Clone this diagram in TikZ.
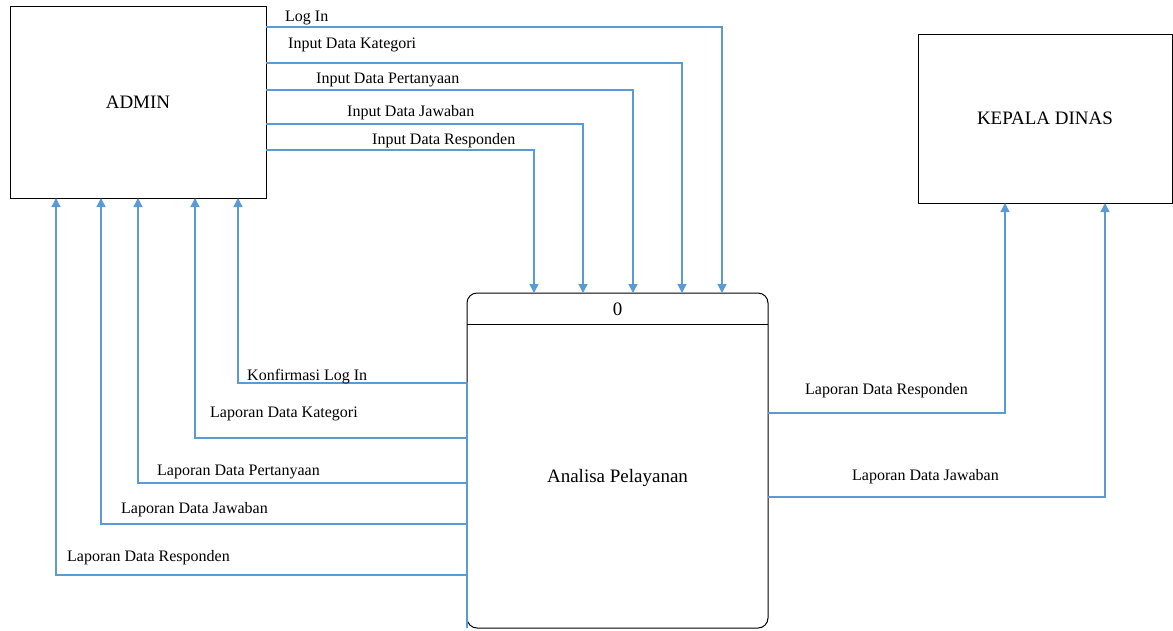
\documentclass[tikz,border=0pt]{standalone}
\usepackage{fontspec}
\setmainfont{Liberation Serif}
\definecolor{flowblue}{HTML}{5B9BD5}
\usetikzlibrary{arrows.meta,positioning}

\begin{document}
\begin{tikzpicture}[x=1pt,y=-1pt,>={Triangle[length=9pt,width=9pt]}]
  \tikzset{
    entity/.style={draw,line width=1pt,inner sep=0pt,outer sep=0pt,font=\rmfamily\fontsize{19}{22}\selectfont},
    flow/.style={->,flowblue,line width=1.3pt},
    flowlabel/.style={anchor=base west,inner sep=0pt,font=\rmfamily\fontsize{16}{19}\selectfont}
  }
  \useasboundingbox (0,0) rectangle (1173,630);

  % external entities
  \node[entity,minimum width=256pt,minimum height=192pt] (admin) at (138,102) {ADMIN};
  \node[entity,minimum width=254pt,minimum height=169pt] (kepala) at (1045,118.5) {KEPALA DINAS};

  % process 0
  \node[draw,line width=1pt,rounded corners=10pt,minimum width=301pt,minimum height=335pt,outer sep=0pt] (proc) at (617.5,460.5) {};
  \draw[line width=1pt] (proc.west |- 0,324) -- (proc.east |- 0,324);
  \node[font=\rmfamily\fontsize{19}{22}\selectfont] (procid) at (617.5,309) {0};
  \node[font=\rmfamily\fontsize{19}{22}\selectfont] (procname) at (617.5,478) {Analisa Pelayanan};

  % admin -> process
  \draw[flow] (admin.east |- 0,27) -| (proc.north -| 722,0);
  \draw[flow] (admin.east |- 0,63) -| (proc.north -| 682,0);
  \draw[flow] (admin.east |- 0,90) -| (proc.north -| 633,0);
  \draw[flow] (admin.east |- 0,124) -| (proc.north -| 583,0);
  \draw[flow] (admin.east |- 0,150) -| (proc.north -| 534,0);
  \node[flowlabel] (login) at (285,21) {Log In};
  \node[flowlabel] (inkat) at (288,48) {Input Data Kategori};
  \node[flowlabel] (inper) at (316,83) {Input Data Pertanyaan};
  \node[flowlabel] (injaw) at (347,116) {Input Data Jawaban};
  \node[flowlabel] (inres) at (372,144) {Input Data Responden};

  % process -> admin
  \draw[flow] (proc.south west) |- (238,383) -- (admin.south -| 238,0);
  \draw[flow] (proc.south west) |- (195,438) -- (admin.south -| 195,0);
  \draw[flow] (proc.south west) |- (138,483) -- (admin.south -| 138,0);
  \draw[flow] (proc.south west) |- (101,524) -- (admin.south -| 101,0);
  \draw[flow] (proc.south west) |- (56,575) -- (admin.south -| 56,0);
  \node[flowlabel] (konf) at (247,380) {Konfirmasi Log In};
  \node[flowlabel] (lapkat) at (210,417) {Laporan Data Kategori};
  \node[flowlabel] (lapper) at (157,475) {Laporan Data Pertanyaan};
  \node[flowlabel] (lapjaw) at (121,513) {Laporan Data Jawaban};
  \node[flowlabel] (lapres) at (67,561) {Laporan Data Responden};

  % process -> kepala dinas
  \draw[flow] (proc.east |- 0,413) -| (kepala.south -| 1005,0);
  \draw[flow] (proc.east |- 0,497) -| (kepala.south -| 1105,0);
  \node[flowlabel] (kdres) at (805,394) {Laporan Data Responden};
  \node[flowlabel] (kdjaw) at (852,480) {Laporan Data Jawaban};
\end{tikzpicture}
\end{document}
